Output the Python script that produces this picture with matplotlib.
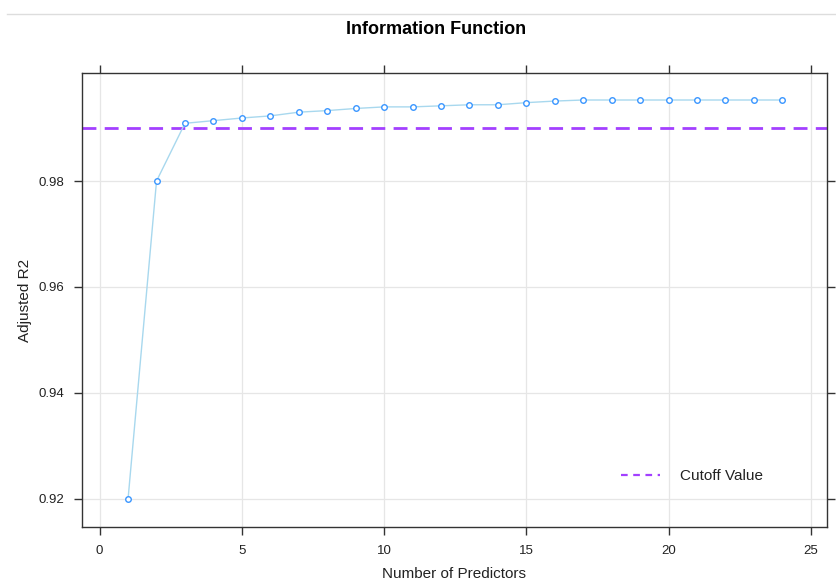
import matplotlib.pyplot as plt
from matplotlib.lines import Line2D

plt.rcParams["font.family"] = ["Liberation Sans", "DejaVu Sans"]

# Adjusted R2 by number of predictors
n_predictors = list(range(1, 25))
adj_r2 = [0.9200, 0.9800, 0.9909, 0.9914, 0.9919, 0.9923, 0.9930, 0.9933,
          0.9937, 0.9940, 0.9940, 0.9942, 0.9944, 0.9944, 0.9948, 0.9951,
          0.9953, 0.9953, 0.9953, 0.9953, 0.9953, 0.9953, 0.9953, 0.9953]
cutoff = 0.99
x_ticks = [0, 5, 10, 15, 20, 25]
y_ticks = [0.92, 0.94, 0.96, 0.98]

fig = plt.figure(figsize=(8.37, 5.81), dpi=100)
ax = fig.add_axes([82 / 837, 1 - 527 / 581, 745 / 837, 454 / 581])

ax.grid(True, color="#e6e6e6", linewidth=0.9)
ax.set_axisbelow(True)
ax.plot(n_predictors, adj_r2, color="#a8d8ee", linewidth=1.0,
        marker="o", markersize=4, markerfacecolor="white",
        markeredgecolor="#3a96ff", markeredgewidth=1.0, zorder=3)
ax.axhline(cutoff, color="#a340ff", linestyle=(0, (5, 3)), linewidth=2, zorder=2)

ax.set_xlim(-0.62, 25.57)
ax.set_ylim(0.91466, 1.0004)
ax.set_xticks(x_ticks)
ax.set_yticks(y_ticks)
ax.set_yticklabels(["0.92", "0.94", "0.96", "0.98"])
ax.tick_params(axis="both", direction="out", length=6, width=1, color="#333333",
               labelsize=9.5, labelcolor="#222222", top=True, right=True)
ax.tick_params(axis="x", pad=7)
ax.tick_params(axis="y", pad=7)
for s in ax.spines.values():
    s.set_color("#333333")
    s.set_linewidth(1.0)

fig.text(454 / 837, 1 - 574 / 581, "Number of Predictors", ha="center", va="center",
         fontsize=11, color="#222222")
fig.text(25 / 837, 1 - 300 / 581, "Adjusted R2", ha="center", va="center",
         rotation=90, fontsize=11, color="#222222")

fig.text(436 / 837, 1 - 30 / 581, "Information Function", ha="center", va="center",
         fontsize=13, fontweight="bold", color="black")
fig.add_artist(Line2D([7 / 837, 1], [1 - 14 / 581, 1 - 14 / 581],
                      color="#dddddd", linewidth=1))

# legend drawn in figure coords
fig.add_artist(Line2D([621 / 837, 660 / 837], [1 - 475 / 581, 1 - 475 / 581],
                      color="#a340ff", linestyle=(0, (3, 2.5)), linewidth=1.6))
fig.text(680 / 837, 1 - 476 / 581, "Cutoff Value", ha="left", va="center",
         fontsize=11, color="#222222")

fig.savefig("out.png", dpi=100)
